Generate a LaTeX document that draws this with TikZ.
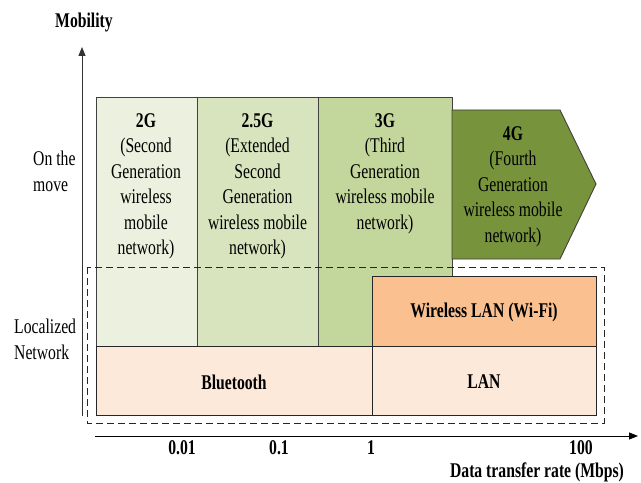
\documentclass[tikz,border=0pt]{standalone}
\usepackage{fontspec}
\setmainfont{Liberation Serif}[FakeStretch=0.75]
\usetikzlibrary{arrows.meta}
\definecolor{cTwo}{HTML}{EBF1DE}
\definecolor{cTwoFive}{HTML}{D7E4BD}
\definecolor{cThree}{HTML}{C3D69B}
\definecolor{cFour}{HTML}{77933C}
\definecolor{cWifi}{HTML}{FAC090}
\definecolor{cLan}{HTML}{FDE9D9}
\begin{document}
\begin{tikzpicture}[x=1bp,y=-1bp,
  every node/.style={font=\fontsize{21}{25.6}\selectfont, inner sep=0pt},
  box/.style={draw=black!75, line width=0.9bp},
  bbox/.style={draw=black!85, line width=1bp},
  lbl/.style={align=center, anchor=north},
  bold/.style={font=\fontsize{21}{25.6}\selectfont\bfseries},
  axis/.style={line width=0.9bp, -{Triangle[length=9bp,width=7bp]}}]
\useasboundingbox (0,0) rectangle (641,483);
\fill[white] (0,0) rectangle (641,483);
% columns
\path[box,fill=cTwo] (96,97) rectangle (197,346);
\path[box,fill=cTwoFive] (197,97) rectangle (318,346);
\path[box,fill=cThree] (318,97) rectangle (452,346);
\path[box,fill=cFour] (452,110) -- (560,110) -- (596,184) -- (560,259) -- (452,259) -- cycle;
\path[bbox,fill=cWifi] (372,276) rectangle (596,346);
\path[bbox,fill=cLan] (96,346) rectangle (372,415);
\path[bbox,fill=cLan] (372,346) rectangle (596,415);
\draw[black!85, dash pattern=on 7bp off 4bp, line width=0.9bp] (87,267) rectangle (604,423);
% texts
\node[lbl] (g2) at (146,113) {\textbf{2G}\\(Second\\Generation\\wireless\\mobile\\network)};
\node[lbl] (g25) at (257.5,113) {\textbf{2.5G}\\(Extended\\Second\\Generation\\wireless mobile\\network)};
\node[lbl] (g3) at (385,113) {\textbf{3G}\\(Third\\Generation\\wireless mobile\\network)};
\node[lbl] (g4) at (513,126) {\textbf{4G}\\(Fourth\\Generation\\wireless mobile\\network)};
\node[bold] (wifi) at (484,312) {Wireless LAN (Wi-Fi)};
\node[bold] (bt) at (234,382) {Bluetooth};
\node[bold] (lan) at (484,382) {LAN};
\node[anchor=west, align=left] (move) at (33,171.5) {On the\\move};
\node[anchor=west, align=left] (loc) at (14,339.5) {Localized\\Network};
% axes
\coordinate (yo) at (82,416);
\coordinate (yt) at (82,47);
\coordinate (xo) at (95,436);
\coordinate (xt) at (638,436);
\draw[axis, black!80] (yo) -- (yt);
\draw[axis] (xo) -- (xt);
\node[bold] (mob) at (84,23) {Mobility};
\node[bold] (t1) at (182,448) {0.01};
\node[bold] (t2) at (279,448) {0.1};
\node[bold] (t3) at (371,448) {1};
\node[bold] (t4) at (581,448) {100};
\node[bold] (xl) at (537,472) {Data transfer rate (Mbps)};
\end{tikzpicture}
\end{document}
